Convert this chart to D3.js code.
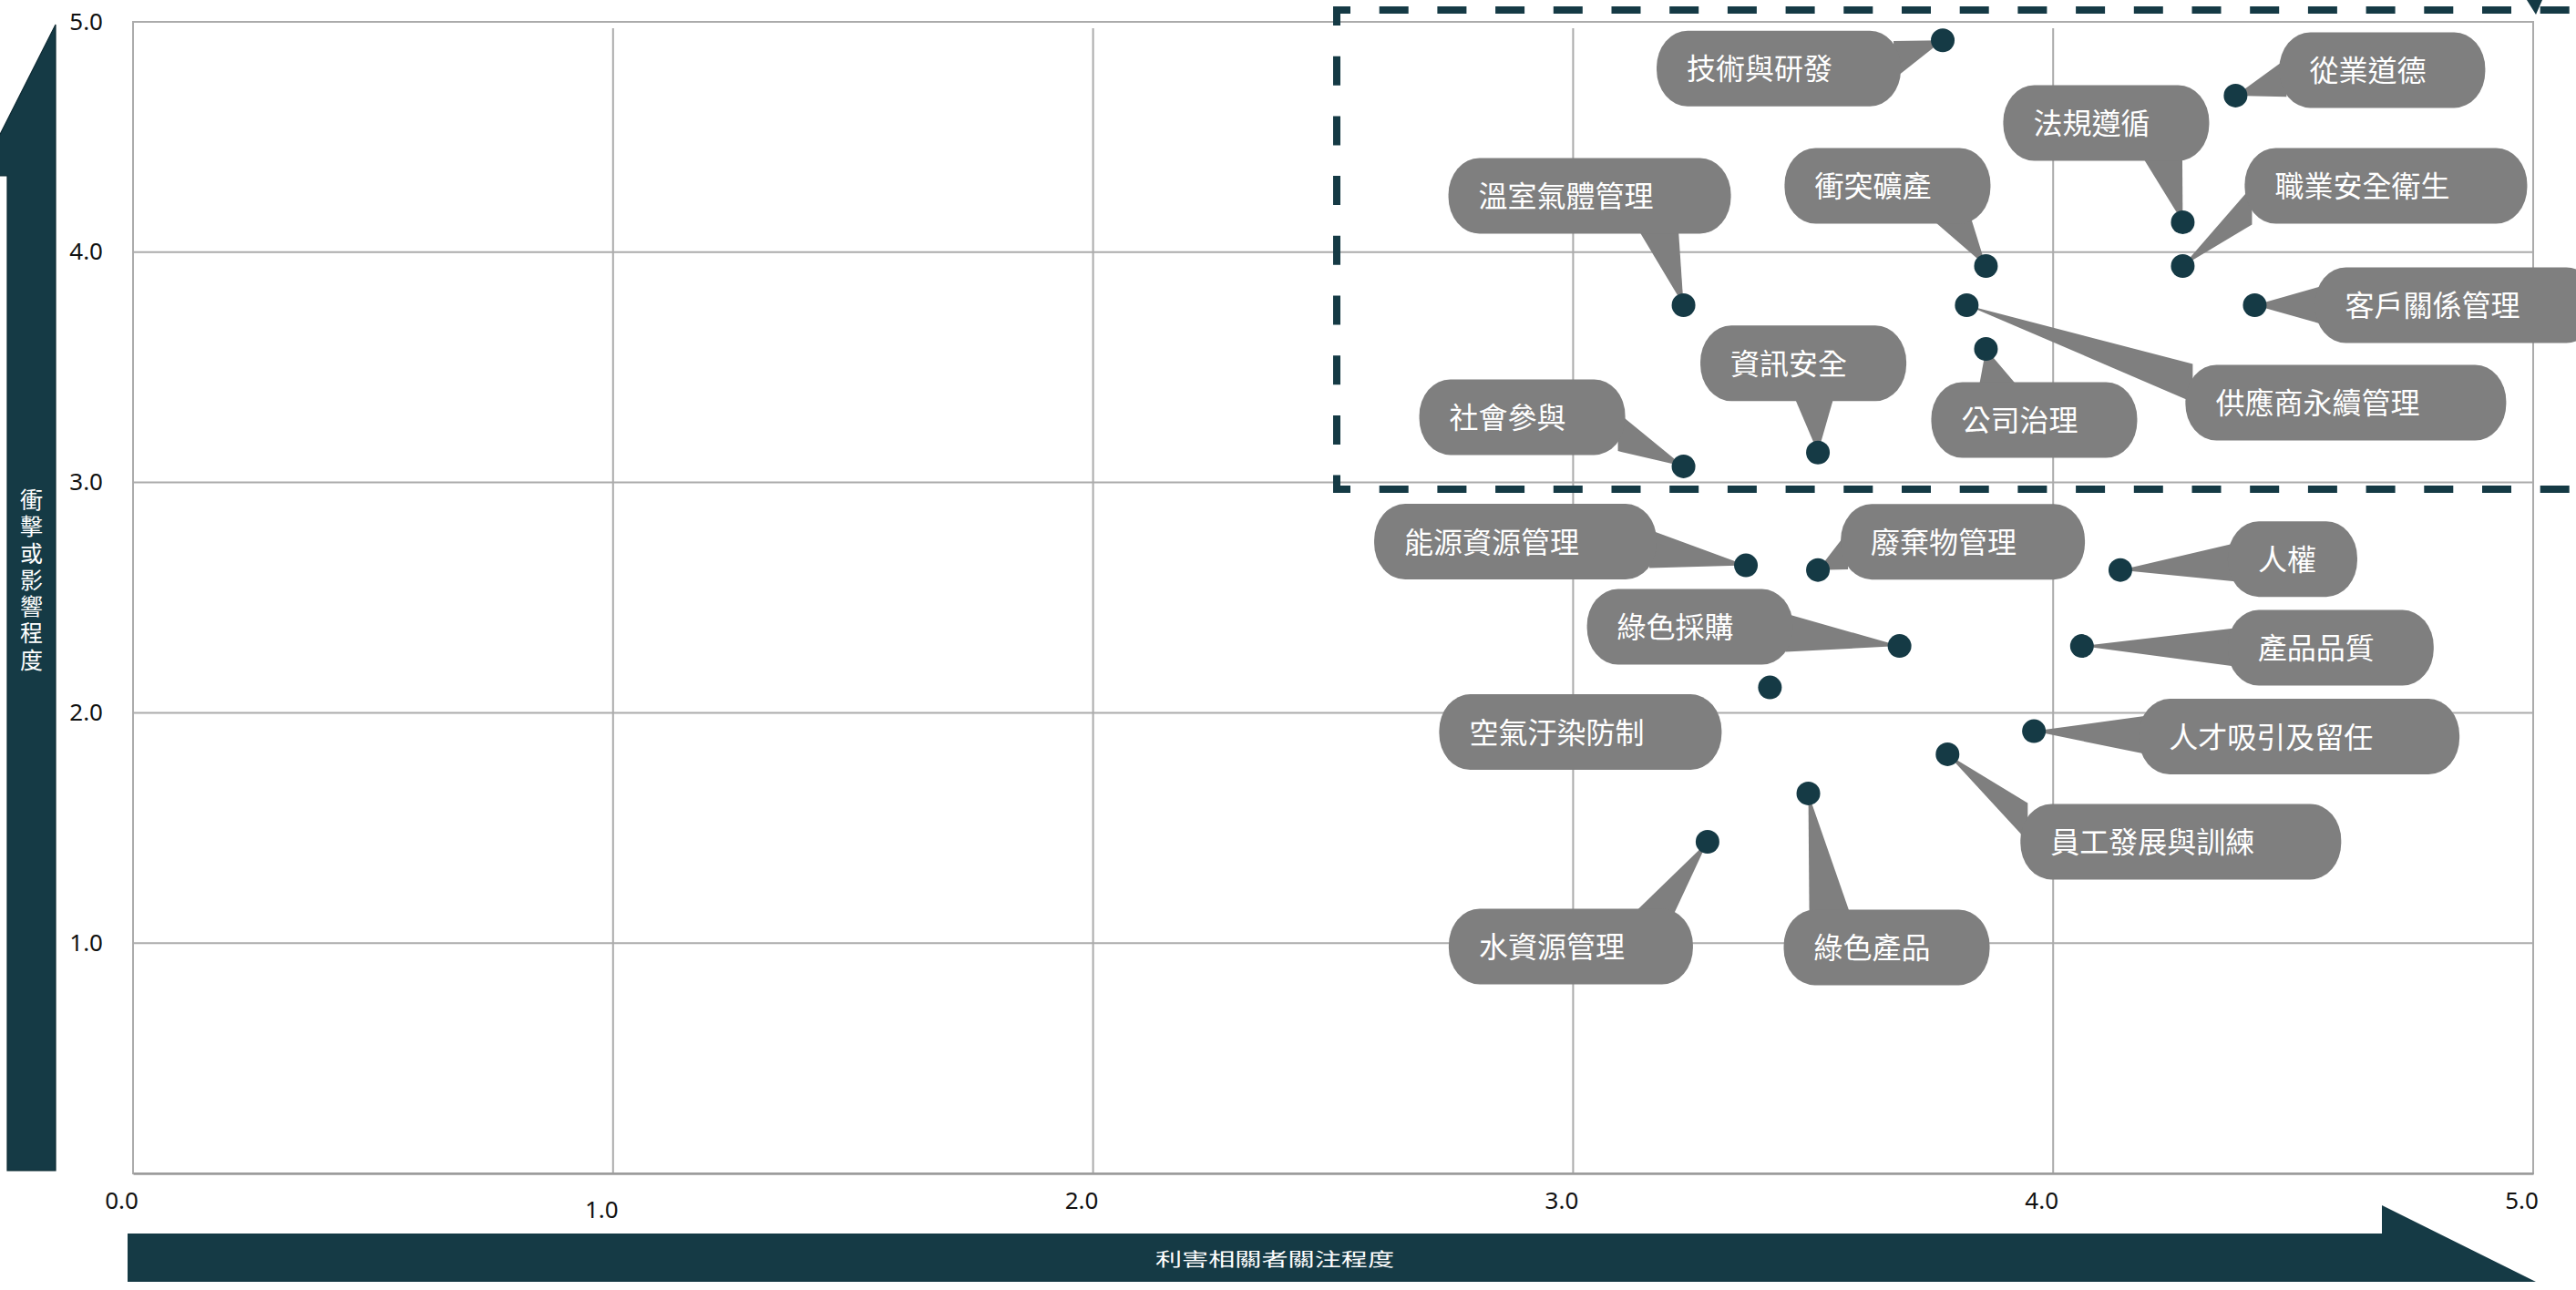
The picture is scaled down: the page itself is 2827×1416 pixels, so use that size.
<!DOCTYPE html>
<html>
<head>
<meta charset="utf-8">
<script src="https://cdn.jsdelivr.net/npm/d3@7"></script>
<style>
html,body{margin:0;padding:0;background:#ffffff;overflow:hidden}
svg{display:block}
</style>
</head>
<body>
<svg id="chart"></svg>
<script>
// ---------------- data ----------------
const topics = ["技術與研發","從業道德","法規遵循","職業安全衛生","衝突礦產","溫室氣體管理","供應商永續管理","客戶關係管理","公司治理","資訊安全","社會參與","能源資源管理","廢棄物管理","人權","綠色採購","產品品質","空氣汙染防制","人才吸引及留任","員工發展與訓練","綠色產品","水資源管理"];
const concern = [3.77,4.38,4.27,4.27,3.86,3.23,3.82,4.42,3.86,3.51,3.23,3.36,3.51,4.14,3.68,4.06,3.41,3.96,3.78,3.49,3.28];
const impact  = [4.92,4.68,4.13,3.94,3.94,3.77,3.77,3.77,3.58,3.13,3.07,2.64,2.62,2.62,2.29,2.29,2.11,1.92,1.82,1.65,1.44];
const xTicks = [0,1,2,3,4,5];
const yTicks = [1,2,3,4,5];
const xTitle = "利害相關者關注程度";
const yTitle = "衝擊或影響程度";
const noLeader = ["空氣汙染防制"];

// ---------------- layout (annotation placement, px offsets from point to bubble left edge / centre y) -------------
const calloutOffset = [
  [-314,31],[48,-28],[-197,-109],[68,-88],[-221,-88],[-258,-120],[240,107],[66,0],[-60,78],[-129,-98],[-290,-54],
  [-408,-26],[25,-31],[118,-12],[-343,-21],[160,2],[-363,49],[115,6],[80,96],[-27,169],[-284,115]
];

const W = 2827, H = 1416;
const M = {left:146, right:2780, top:24, bottom:1288};
const TEAL = "#153a45", GRAY = "#7f7f7f", GRID = "#ababab";

const svg = d3.select("#chart").attr("width", W).attr("height", H);
const x = d3.scaleLinear().domain([0,5]).range([M.left, M.right]);
const y = d3.scaleLinear().domain([0,5]).range([M.bottom, M.top]);

// ---------------- grid ----------------
const grid = svg.append("g");
grid.selectAll("line.h").data(yTicks.filter(d => d < 5)).join("line")
  .attr("class","h")
  .attr("x1", M.left).attr("x2", M.right)
  .attr("y1", d => y(d)).attr("y2", d => y(d))
  .attr("stroke", GRID).attr("stroke-width", 2);
grid.selectAll("line.v").data(xTicks.filter(d => d > 0 && d < 5)).join("line")
  .attr("class","v")
  .attr("x1", d => x(d)).attr("x2", d => x(d))
  .attr("y1", M.top + 7).attr("y2", M.bottom)
  .attr("stroke", GRID).attr("stroke-width", 2);
grid.append("rect")
  .attr("x", M.left).attr("y", M.top)
  .attr("width", M.right - M.left).attr("height", M.bottom - M.top)
  .attr("fill", "none").attr("stroke", GRID).attr("stroke-width", 2);

// ---------------- axes ----------------
const gx = svg.append("g").attr("transform", `translate(0,${M.bottom})`)
  .call(d3.axisBottom(x).tickValues(xTicks).tickFormat(d3.format(".1f")).tickSize(0));
gx.select(".domain").attr("stroke", "#9a9a9a").attr("stroke-width", 2.5);
gx.selectAll(".tick text")
  .attr("font-family", "'Noto Sans', sans-serif").attr("font-size", 26).attr("fill", "#111")
  .attr("dy", null).attr("dx", -13)
  .attr("y", d => d === 1 ? 49 : 39);

const gy = svg.append("g").attr("transform", `translate(${M.left},0)`)
  .call(d3.axisLeft(y).tickValues(yTicks).tickFormat(d3.format(".1f")).tickSize(0));
gy.select(".domain").remove();
gy.selectAll(".tick text")
  .attr("font-family", "'Noto Sans', sans-serif").attr("font-size", 26).attr("fill", "#111")
  .attr("dy", null).attr("x", -33).attr("y", 8).attr("text-anchor", "end");

// ---------------- axis arrows ----------------
svg.append("polygon")
  .attr("points", [[61,27],[-23,193],[8,193],[8,1285],[61,1285]].map(p => p.join(",")).join(" "))
  .attr("fill", TEAL).attr("stroke", "#0d2a33").attr("stroke-width", 1.2);
svg.append("polygon")
  .attr("points", [[140,1354],[2614,1354],[2614,1323],[2783,1407],[140,1407]].map(p => p.join(",")).join(" "))
  .attr("fill", TEAL);

svg.append("text")
  .attr("x", 34.5).attr("y", 536)
  .style("writing-mode", "vertical-rl")
  .style("text-orientation", "upright")
  .attr("letter-spacing", 4.3)
  .attr("font-family", "'Noto Sans CJK TC', sans-serif").attr("font-size", 25)
  .attr("fill", "#ffffff").text(yTitle);

svg.append("text")
  .attr("x", 1399).attr("y", 1381)
  .attr("text-anchor", "middle").attr("dominant-baseline", "central")
  .attr("font-family", "'Noto Sans CJK TC', sans-serif").attr("font-size", 20)
  .attr("textLength", 262).attr("lengthAdjust", "spacingAndGlyphs")
  .attr("fill", "#ffffff").text(xTitle);

// ---------------- focus (dashed) box ----------------
const box = svg.append("g").attr("stroke", TEAL).attr("stroke-width", 8).attr("fill", "none");
box.append("line").attr("x1", 1463).attr("x2", 2840).attr("y1", 11).attr("y2", 11)
  .attr("stroke-dasharray", "32 31.7").attr("stroke-dashoffset", 13);
box.append("line").attr("x1", 1463).attr("x2", 2840).attr("y1", 537).attr("y2", 537)
  .attr("stroke-dasharray", "32 31.7").attr("stroke-dashoffset", 13);
box.append("line").attr("x1", 1467).attr("x2", 1467).attr("y1", 7).attr("y2", 541)
  .attr("stroke-dasharray", "32 33.7").attr("stroke-dashoffset", 11);
svg.append("polygon").attr("points", "2773,0 2790,0 2783,16").attr("fill", TEAL);

// ---------------- callouts ----------------
const items = topics.map((t, i) => {
  const px = x(concern[i]), py = y(impact[i]);
  const w = 42 * t.length + 58, h = 83;
  const x0 = px + calloutOffset[i][0], cy = py + calloutOffset[i][1];
  return {t, px, py, w, h, x0, x1: x0 + w, y0: cy - h/2, y1: cy + h/2, cx: x0 + w/2, cy};
});

function tailPath(d) {
  const dx = d.px - d.cx, dy = d.py - d.cy;
  const ox = Math.abs(dx) - d.w/2, oy = Math.abs(dy) - d.h/2;
  const inset = 8;
  let a, b;
  if (ox > oy) {
    const ex = dx < 0 ? d.x0 + inset : d.x1 - inset;
    const by = Math.max(d.y0 + 20, Math.min(d.y1 - 20, d.cy + 0.3 * dy));
    a = [ex, by - 21]; b = [ex, by + 21];
  } else {
    const ey = dy < 0 ? d.y0 + inset : d.y1 - inset;
    const bx = Math.max(d.x0 + 45, Math.min(d.x1 - 45, d.cx + 0.72 * dx));
    a = [bx - 23, ey]; b = [bx + 23, ey];
  }
  return `M${d.px},${d.py}L${a[0]},${a[1]}L${b[0]},${b[1]}Z`;
}

const cg = svg.append("g");
cg.selectAll("path.tail").data(items.filter(d => !noLeader.includes(d.t))).join("path")
  .attr("class", "tail").attr("d", tailPath).attr("fill", GRAY);
cg.selectAll("rect.bubble").data(items).join("rect")
  .attr("class", "bubble")
  .attr("x", d => d.x0).attr("y", d => d.y0)
  .attr("width", d => d.w).attr("height", d => d.h)
  .attr("rx", 34).attr("ry", 40)
  .attr("fill", GRAY);
cg.selectAll("text.lbl").data(items).join("text")
  .attr("class", "lbl")
  .attr("x", d => d.x0 + 33).attr("y", d => d.cy - 2)
  .attr("dominant-baseline", "central")
  .attr("font-family", "'Noto Sans CJK TC', sans-serif").attr("font-size", 32)
  .attr("fill", "#ffffff").text(d => d.t);

// ---------------- points ----------------
svg.append("g").selectAll("circle").data(items).join("circle")
  .attr("cx", d => d.px).attr("cy", d => d.py).attr("r", 13)
  .attr("fill", TEAL);
</script>
</body>
</html>
